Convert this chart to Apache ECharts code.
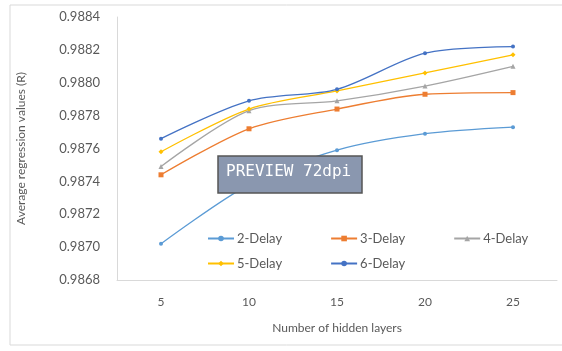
<!DOCTYPE html>
<html><head><meta charset="utf-8">
<script src="https://cdn.jsdelivr.net/npm/echarts@6/dist/echarts.min.js"></script>
<style>html,body{margin:0;padding:0;background:#fff}#c{width:562px;height:351px}</style>
</head><body><div id="c"></div>
<script>
const categories = ['5', '10', '15', '20', '25'];
const delay2 = [0.98702, 0.98738, 0.98759, 0.98769, 0.98773];
const delay3 = [0.98744, 0.98772, 0.98784, 0.98793, 0.98794];
const delay4 = [0.98749, 0.98783, 0.98789, 0.98798, 0.98810];
const delay5 = [0.98758, 0.98784, 0.98795, 0.98806, 0.98817];
const delay6 = [0.98766, 0.98789, 0.98796, 0.98818, 0.98822];
const seriesNames = ['2-Delay', '3-Delay', '4-Delay', '5-Delay', '6-Delay'];
const yMin = 0.9868, yMax = 0.9884, yStep = 0.0002;

const colors = ['#5B9BD5', '#ED7D31', '#A5A5A5', '#FFC000', '#4472C4'];
const symbols = ['circle', 'rect', 'triangle', 'diamond', 'circle'];
const sizes = [4, 5, 5, 5, 4];
const allData = [delay2, delay3, delay4, delay5, delay6];
const FONT = 'Lato, "Open Sans", sans-serif';

const chart = echarts.init(document.getElementById('c'), null, {renderer: 'canvas'});
const legendCommon = {
  left: 202, itemWidth: 26, itemHeight: 7, itemGap: 48,
  textStyle: {color: '#595959', fontSize: 13, fontFamily: FONT, padding: [0, 0, 0, -2]}
};
chart.setOption({
  animation: false,
  color: colors,
  grid: {left: 117, right: 5, top: 17, bottom: 71},
  legend: [
    Object.assign({}, legendCommon, {top: 227, data: seriesNames.slice(0, 3)}),
    Object.assign({}, legendCommon, {top: 252, data: seriesNames.slice(3)})
  ],
  xAxis: {
    type: 'category', data: categories, boundaryGap: true,
    name: 'Number of hidden layers', nameLocation: 'middle', nameGap: 42,
    nameTextStyle: {color: '#595959', fontSize: 12, fontFamily: FONT},
    axisLine: {lineStyle: {color: '#D9D9D9'}},
    axisTick: {show: false},
    axisLabel: {color: '#595959', fontSize: 12, fontFamily: FONT, margin: 16}
  },
  yAxis: {
    type: 'value', min: yMin, max: yMax, interval: yStep,
    name: 'Average regression values (R)', nameLocation: 'middle', nameGap: 90,
    nameTextStyle: {color: '#595959', fontSize: 12, fontFamily: FONT},
    axisLine: {show: true, lineStyle: {color: '#D9D9D9'}},
    axisTick: {show: false},
    splitLine: {show: false},
    axisLabel: {color: '#595959', fontSize: 13, fontFamily: FONT, margin: 17,
      formatter: v => v.toFixed(4)}
  },
  series: seriesNames.map((n, i) => ({
    name: n, type: 'line', data: allData[i], smooth: 0.3,
    symbol: symbols[i], symbolSize: sizes[i], showSymbol: true,
    lineStyle: {width: 1.3, color: colors[i]},
    itemStyle: {color: colors[i]}
  })),
  graphic: [
    {type: 'rect', shape: {x: 10, y: 5, width: 560, height: 340},
      style: {fill: 'none', stroke: '#D9D9D9', lineWidth: 1}, z: -1},
    {type: 'rect', shape: {x: 218, y: 156, width: 144, height: 37},
      style: {fill: '#8A97AF', stroke: '#555', lineWidth: 1.5}, z: 100},
    {type: 'text', left: 226, top: 164, z: 101,
      style: {text: 'PREVIEW 72dpi', fill: '#fff', font: '16px "DejaVu Sans Mono", monospace'}}
  ]
});
</script></body></html>
